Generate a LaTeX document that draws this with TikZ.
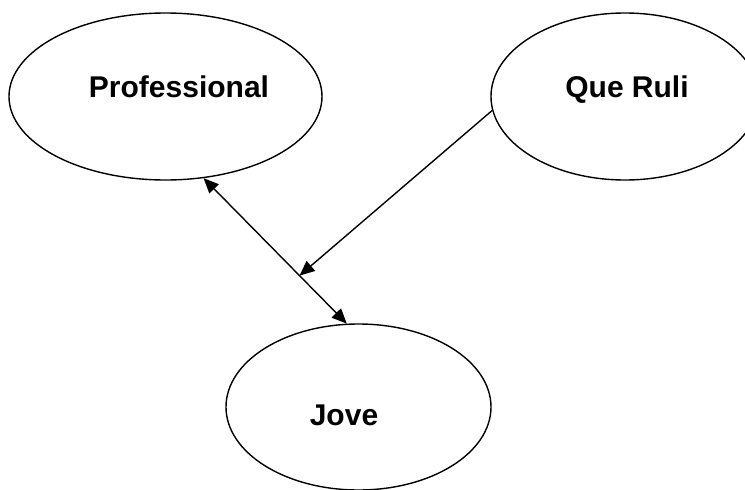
\documentclass[tikz,border=0pt]{standalone}
\usepackage{fontspec}
\setmainfont{Liberation Sans}
\usetikzlibrary{shapes.geometric,arrows.meta,calc}

\tikzset{
  bubble/.style={draw, ellipse, inner sep=0pt, line width=1.4pt},
  tag/.style={font=\fontsize{30}{36}\selectfont\bfseries, anchor=base, inner sep=0pt},
  link/.style={line width=1.4pt, -{Triangle[length=15pt,width=13pt]}}
}

\begin{document}
\begin{tikzpicture}[x=1pt, y=-1pt]
  \useasboundingbox (0,0) rectangle (745,490);

  % -- Ellipses --
  \node[bubble, minimum width=313pt, minimum height=167pt] (prof) at (165.5,96.5) {};
  \node[bubble, minimum width=268pt, minimum height=167pt] (qr) at (625,96.5) {};
  \node[bubble, minimum width=265pt, minimum height=166pt] (jove) at (358.5,407) {};

  % -- Labels --
  \node[tag] (proflbl) at (179,97) {Professional};
  \node[tag] (qrlbl) at (627,97) {Que Ruli};
  \node[tag] (jovelbl) at (344,425) {Jove};

  % -- Connectors --
  \draw[link, {Triangle[length=15pt,width=13pt]}-{Triangle[length=15pt,width=13pt]}] (prof.-65.8) -- (jove.98.6);
  \coordinate (meet) at ($(prof.-65.8)!0.67!(jove.98.6)$);
  \draw[link] (qr.186.6) -- (meet);

\end{tikzpicture}
\end{document}
